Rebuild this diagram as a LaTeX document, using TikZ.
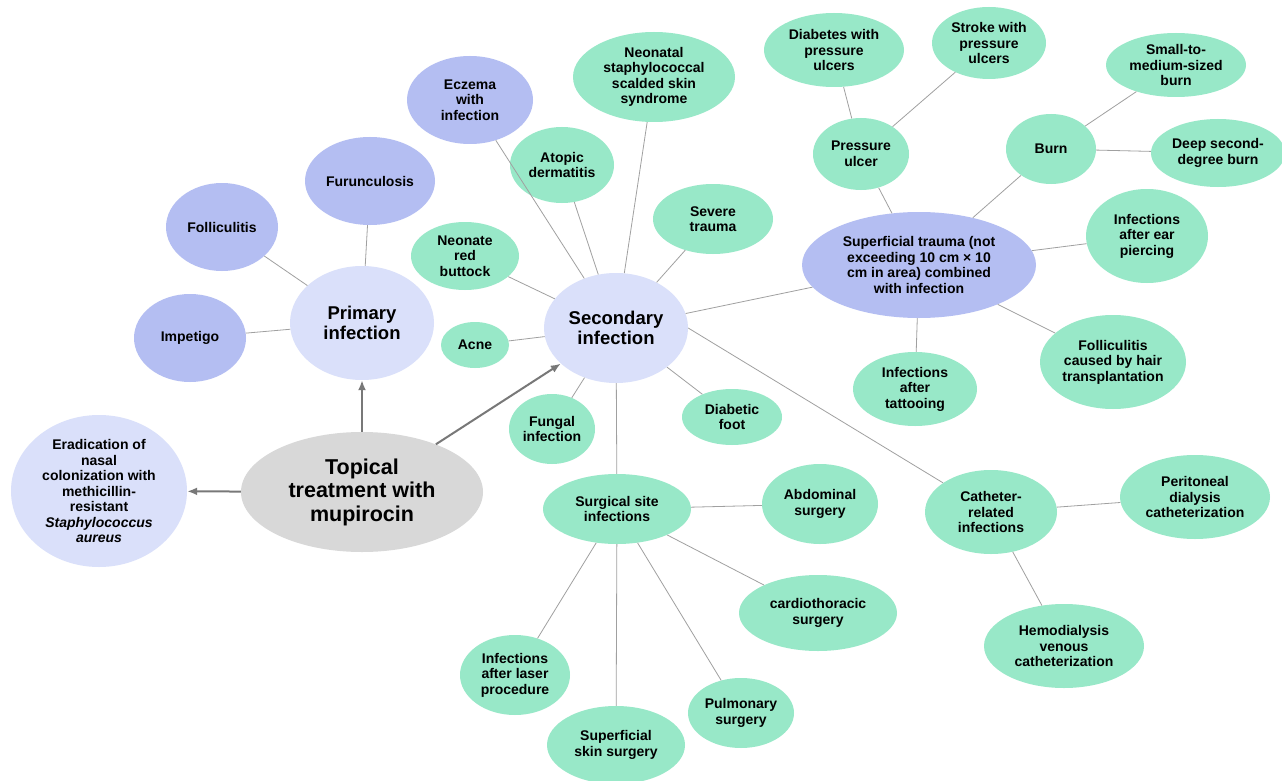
\documentclass[tikz,border=0pt]{standalone}
\usepackage{fontspec}
\setmainfont{Liberation Sans}
\usepackage{tikz}
\usetikzlibrary{shapes.geometric, arrows.meta}

\definecolor{leafgreen}{RGB}{152,232,200}
\definecolor{midlav}{RGB}{180,190,242}
\definecolor{lightlav}{RGB}{218,224,250}
\definecolor{rootgray}{RGB}{216,216,216}
\definecolor{linegray}{RGB}{160,160,160}
\definecolor{arrgray}{RGB}{120,120,120}

\tikzset{
  bub/.style={ellipse, inner sep=0pt, align=center, font=\bfseries\fontsize{14}{15.5}\selectfont},
  leaf/.style={bub, fill=leafgreen},
  sub/.style={bub, fill=midlav},
  hub/.style={bub, fill=lightlav},
  big/.style={font=\bfseries\fontsize{18.5}{20}\selectfont},
  root/.style={bub, fill=rootgray, font=\bfseries\fontsize{21.5}{23.5}\selectfont},
  sz/.style 2 args={minimum width=#1pt, minimum height=#2pt},
  link/.style={draw=linegray, line width=0.8pt},
  arr/.style={draw=arrgray, line width=2pt, -{Latex[length=10pt,width=8pt]}},
}

\begin{document}
\begin{tikzpicture}[x=1pt, y=-1pt]
\fill[white] (0,0) rectangle (1282,781);
\useasboundingbox (0,0) rectangle (1282,781);

\node[root, sz={242}{120}] (top) at (362,492) {Topical\\ treatment with\\ mupirocin};
\node[hub, sz={176}{152}] (erad) at (99,491) {Eradication of\\ nasal\\ colonization with\\ methicillin-\\ resistant\\ \textit{Staphylococcus}\\ \textit{aureus}};
\node[hub, big, sz={144}{114}] (prim) at (362,323) {Primary\\ infection};
\node[hub, big, sz={144}{110}] (sec) at (616,328) {Secondary\\ infection};

% primary
\node[sub, sz={112}{88}] (imp) at (190,338) {Impetigo};
\node[sub, sz={112}{88}] (foll) at (222,227) {Folliculitis};
\node[sub, sz={130}{88}] (furu) at (370,181) {Furunculosis};

% secondary
\node[sub, sz={126}{88}] (ecz) at (470,100) {Eczema\\ with\\ infection};
\node[leaf, sz={108}{68}] (nrb) at (465,256) {Neonate\\ red\\ buttock};
\node[leaf, sz={68}{46}] (acne) at (475,345) {Acne};
\node[leaf, sz={104}{76}] (atop) at (562,165) {Atopic\\ dermatitis};
\node[leaf, sz={162}{90}] (ssss) at (654,77) {Neonatal\\ staphylococcal\\ scalded skin\\ syndrome};
\node[leaf, sz={120}{70}] (sev) at (713,219) {Severe\\ trauma};
\node[leaf, sz={86}{70}] (fung) at (552,429) {Fungal\\ infection};
\node[leaf, sz={100}{56}] (dfoot) at (732,417) {Diabetic\\ foot};

\node[leaf, sz={148}{70}] (ssi) at (617,509) {Surgical site\\ infections};
\node[leaf, sz={116}{80}] (abd) at (820,504) {Abdominal\\ surgery};
\node[leaf, sz={158}{76}] (card) at (818,613) {cardiothoracic\\ surgery};
\node[leaf, sz={106}{70}] (pulm) at (741,713) {Pulmonary\\ surgery};
\node[leaf, sz={138}{78}] (sskin) at (616,745) {Superficial\\ skin surgery};
\node[leaf, sz={110}{80}] (laser) at (515,675) {Infections\\ after laser\\ procedure};

\node[sub, sz={234}{106}] (strauma) at (919,265) {Superficial trauma (not\\ exceeding 10 cm × 10\\ cm in area) combined\\ with infection};
\node[leaf, sz={96}{72}] (pu) at (861,154) {Pressure\\ ulcer};
\node[leaf, sz={140}{74}] (dpu) at (834,50) {Diabetes with\\ pressure\\ ulcers};
\node[leaf, sz={114}{72}] (spu) at (989,43) {Stroke with\\ pressure\\ ulcers};
\node[leaf, sz={90}{70}] (burn) at (1051,149) {Burn};
\node[leaf, sz={140}{64}] (smb) at (1176,65) {Small-to-\\ medium-sized\\ burn};
\node[leaf, sz={134}{68}] (dsb) at (1218,153) {Deep second-\\ degree burn};
\node[leaf, sz={122}{94}] (ear) at (1147,236) {Infections\\ after ear\\ piercing};
\node[leaf, sz={146}{94}] (fhair) at (1113,362) {Folliculitis\\ caused by hair\\ transplantation};
\node[leaf, sz={124}{74}] (tatt) at (915,389) {Infections\\ after\\ tattooing};

\node[leaf, sz={132}{84}] (cath) at (991,512) {Catheter-\\ related\\ infections};
\node[leaf, sz={150}{84}] (perit) at (1195,497) {Peritoneal\\ dialysis\\ catheterization};
\node[leaf, sz={160}{84}] (hemo) at (1064,646) {Hemodialysis\\ venous\\ catheterization};

\draw[arr] (top) -- (erad);
\draw[arr] (top) -- (prim);
\draw[arr] (top) -- (sec);

\draw[link] (prim) -- (imp) (prim) -- (foll) (prim) -- (furu);
\draw[link] (sec) -- (ecz) (sec) -- (nrb) (sec) -- (acne) (sec) -- (atop)
  (sec) -- (ssss) (sec) -- (sev) (sec) -- (fung) (sec) -- (dfoot)
  (sec) -- (ssi) (sec) -- (strauma) (sec.east) -- (cath);
\draw[link] (ssi) -- (abd) (ssi) -- (card) (ssi) -- (pulm) (ssi) -- (sskin) (ssi) -- (laser);
\draw[link] (strauma) -- (pu) (strauma) -- (burn) (strauma) -- (ear)
  (strauma) -- (fhair) (strauma) -- (tatt);
\draw[link] (pu) -- (dpu) (pu) -- (spu);
\draw[link] (burn) -- (smb) (burn) -- (dsb);
\draw[link] (cath) -- (perit) (cath) -- (hemo);
\end{tikzpicture}
\end{document}
